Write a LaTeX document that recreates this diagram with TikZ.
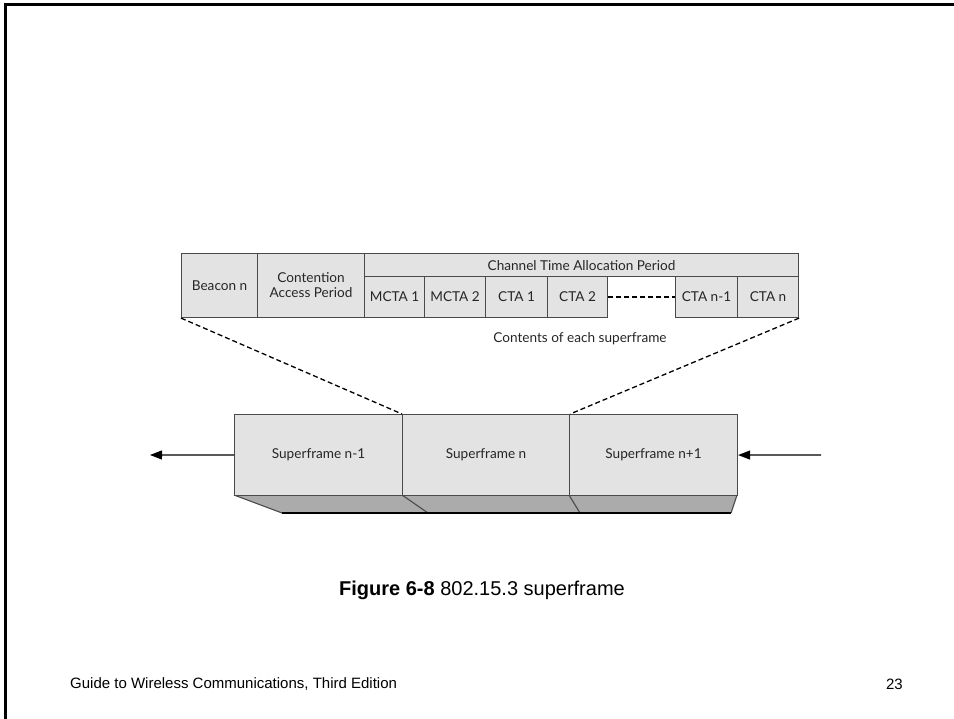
\documentclass[tikz,border=0pt]{standalone}
\usepackage{fontspec}
\setmainfont{Liberation Sans}
\newfontfamily\figfont{Lato}
\usetikzlibrary{arrows.meta}
\definecolor{cellfill}{HTML}{E3E3E3}
\definecolor{edge}{HTML}{4A4A4A}
\definecolor{undergray}{HTML}{ABABAB}
\newcommand\labelfont{\figfont\fontsize{13.6}{15}\selectfont}
\tikzset{
  cell/.style={draw=edge, fill=cellfill, line width=1.1pt, anchor=north west,
    inner sep=0pt, minimum height=41pt, font=\labelfont,
    text=black!85, align=center},
  frame/.style={cell, minimum height=81pt},
  link/.style={line width=1.3pt, dash pattern=on 5pt off 3pt, black},
  flow/.style={line width=1.1pt, -{Triangle[length=12pt,width=9pt]}}
}
\begin{document}
\begin{tikzpicture}[x=1pt,y=-1pt]
\useasboundingbox (0,0) rectangle (954,719);
% slide frame
\draw[line width=3pt] (5,719) -- (5,5) -- (954,5);
% superframe contents
\node[cell, minimum width=76pt, minimum height=64pt] (beacon) at (181,253) {Beacon n};
\node[cell, minimum width=107pt, minimum height=64pt] (cap) at (257,253) {Contention\\Access Period};
\node[cell, minimum width=434pt, minimum height=23pt] (ctap) at (364,253) {Channel Time Allocation Period};
\node[cell, minimum width=60pt] (mcta1) at (364,276) {MCTA 1};
\node[cell, minimum width=61pt] (mcta2) at (424,276) {MCTA 2};
\node[cell, minimum width=62pt] (cta1) at (485,276) {CTA 1};
\node[cell, minimum width=60pt] (cta2) at (547,276) {CTA 2};
\node[cell, minimum width=62pt] (ctanm) at (675,276) {CTA n-1};
\node[cell, minimum width=61pt] (ctan) at (737,276) {CTA n};
\draw[link] (cta2.east) -- (ctanm.west);
\node[font=\labelfont, text=black!85] (contents) at (580,339) {Contents of each superframe};
% superframe sequence with its lower face
\fill[undergray] (234,495) -- (737,495) -- (731,513) -- (282,513) -- cycle;
\draw[edge, line width=1.1pt] (234,495) -- (282,513);
\draw[edge, line width=1.1pt] (402,495) -- (428,513);
\draw[edge, line width=1.1pt] (569,495) -- (580,513);
\draw[edge, line width=1.1pt] (737,495) -- (731,513);
\draw[black, line width=2pt] (282,513) -- (731,513);
\node[frame, minimum width=168pt] (sf1) at (234,414) {Superframe n-1};
\node[frame, minimum width=167pt] (sf2) at (402,414) {Superframe n};
\node[frame, minimum width=168pt] (sf3) at (569,414) {Superframe n+1};
% zoom lines
\draw[link] (beacon.south west) -- (sf2.north west);
\draw[link] (ctan.south east) -- (sf2.north east);
% time arrows
\coordinate (past) at (150,455);
\coordinate (future) at (821,455);
\draw[flow] (sf1.west) -- (past);
\draw[flow] (future) -- (sf3.east);
% caption and footer
\node[font=\fontsize{20}{22}\selectfont] (caption) at (482,590) {\textbf{Figure 6-8} 802.15.3 superframe};
\node[font=\fontsize{15}{17}\selectfont, anchor=west, inner sep=0pt] (footer) at (70,684) {Guide to Wireless Communications, Third Edition};
\node[font=\fontsize{15}{17}\selectfont, anchor=east, inner sep=0pt] (page) at (903,684) {23};
\end{tikzpicture}
\end{document}
